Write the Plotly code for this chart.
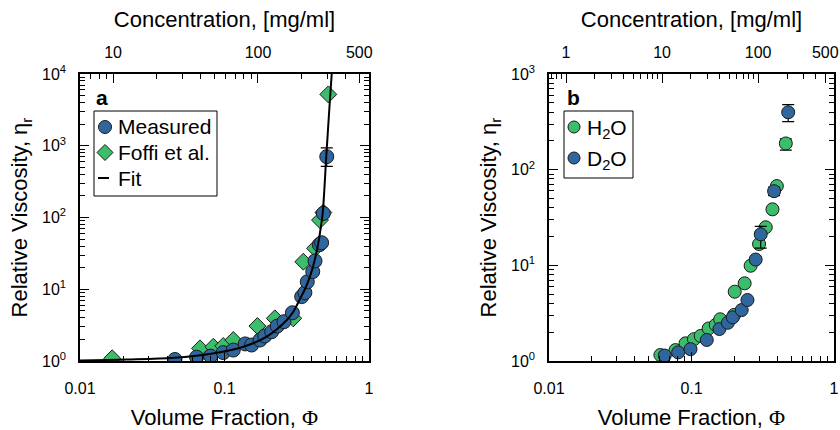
import plotly.graph_objects as go

# ---------------- data ----------------
# Panel a
phi_meas = [0.0454, 0.0641, 0.0802, 0.098, 0.115, 0.139, 0.154, 0.176, 0.19, 0.212,
            0.232, 0.258, 0.295, 0.342, 0.36, 0.374, 0.408, 0.423, 0.453, 0.47, 0.483, 0.51]
eta_meas = [1.05, 1.13, 1.17, 1.31, 1.42, 1.73, 1.67, 1.96, 2.23, 2.56,
            3.07, 3.53, 4.7, 7.9, 8.96, 12.7, 17.6, 24.8, 41.7, 44.5, 114, 705]
err_meas_plus = [0] * 21 + [230]
err_meas_minus = [0] * 21 + [190]

phi_foffi = [0.0167, 0.0677, 0.0837, 0.098, 0.115, 0.169, 0.223, 0.299, 0.351, 0.423, 0.458, 0.483, 0.523]
eta_foffi = [1.09, 1.5, 1.58, 1.62, 1.96, 3.07, 3.93, 3.93, 24.2, 37.2, 92, 117, 5200]

phi_fit = [0.01, 0.021, 0.045, 0.079, 0.135, 0.196, 0.27, 0.30, 0.33, 0.36, 0.39, 0.42,
           0.445, 0.46, 0.478, 0.506, 0.53, 0.552]
eta_fit = [1.02, 1.05, 1.11, 1.25, 1.58, 2.18, 3.72, 4.9, 7.1, 10, 15, 25,
           43, 65, 115, 705, 3000, 10000]

# Panel b
phi_h2o = [0.0605, 0.0772, 0.0908, 0.104, 0.116, 0.132, 0.148, 0.159, 0.199, 0.201,
           0.236, 0.26, 0.298, 0.332, 0.37, 0.397, 0.459]
eta_h2o = [1.155, 1.30, 1.53, 1.69, 1.83, 2.19, 2.38, 2.73, 3.03, 5.3,
           6.49, 9.9, 16.7, 25.0, 38.5, 67.4, 188]
err_h2o_plus = [0] * 16 + [22]
err_h2o_minus = [0] * 16 + [28]

phi_d2o = [0.0649, 0.0806, 0.0984, 0.128, 0.157, 0.180, 0.195, 0.225, 0.247, 0.282, 0.306, 0.38, 0.477]
eta_d2o = [1.14, 1.23, 1.33, 1.66, 2.16, 2.51, 2.86, 3.41, 4.34, 11.5, 21.1, 59.6, 398]
err_d2o_plus = [0] * 10 + [4.5, 6, 80]
err_d2o_minus = [0] * 10 + [6, 6, 80]

# ticks
phi_ticks = [0.01, 0.1, 1]
phi_ticktext = ["0.01", "0.1", "1"]
phi_minor = [0.02, 0.03, 0.04, 0.05, 0.06, 0.07, 0.08, 0.09, 0.2, 0.3, 0.4, 0.5, 0.6, 0.7, 0.8, 0.9]
conc_ticks_a = [10, 100, 500]
conc_ticks_b = [1, 10, 100, 500]
conc_minor = [0.7, 0.8, 0.9, 2, 3, 4, 5, 6, 7, 8, 9, 20, 30, 40, 50, 60, 70, 80, 90, 200, 300, 400]
eta_ticks_a = [1, 10, 100, 1000, 10000]
eta_ticks_b = [1, 10, 100, 1000]
eta_minor = [m * 10 ** d for d in range(4) for m in range(2, 10)]

legend_a = ["Measured", "Foffi et al.", "Fit"]
legend_b = ["H<sub>2</sub>O", "D<sub>2</sub>O"]

BLUE = "#2f669e"
GREEN = "#3cbd6b"
EDGE = "#1a1a1a"
FONT = "Liberation Sans, Arial, Helvetica, sans-serif"
XTITLE = 'Volume Fraction, <span style="font-family:Liberation Serif, DejaVu Serif, serif">Φ</span>'

fig = go.Figure()

# ---------------- panel a ----------------
fig.add_trace(go.Scatter(
    x=phi_foffi, y=eta_foffi, mode="markers", name=legend_a[1], showlegend=False,
    marker=dict(symbol="diamond", size=13, color=GREEN, line=dict(color=EDGE, width=1)),
    xaxis="x", yaxis="y"))
fig.add_trace(go.Scatter(
    x=phi_meas, y=eta_meas, mode="markers", name=legend_a[0], showlegend=False,
    marker=dict(symbol="circle", size=14, color=BLUE, line=dict(color=EDGE, width=1)),
    error_y=dict(type="data", array=err_meas_plus, arrayminus=err_meas_minus,
                 color="black", thickness=1.2, width=6),
    xaxis="x", yaxis="y"))
fig.add_trace(go.Scatter(
    x=phi_fit, y=eta_fit, mode="lines", name=legend_a[2], showlegend=False,
    line=dict(color="black", width=2), line_shape="spline",
    xaxis="x", yaxis="y"))
# carrier for the top (concentration) axis of panel a
fig.add_trace(go.Scatter(
    x=conc_ticks_a, y=[1] * len(conc_ticks_a), mode="markers", showlegend=False,
    marker=dict(opacity=0), hoverinfo="skip", xaxis="x3", yaxis="y"))

# ---------------- panel b ----------------
fig.add_trace(go.Scatter(
    x=phi_h2o, y=eta_h2o, mode="markers", name=legend_b[0], showlegend=False,
    marker=dict(symbol="circle", size=13, color=GREEN, line=dict(color=EDGE, width=1)),
    error_y=dict(type="data", array=err_h2o_plus, arrayminus=err_h2o_minus,
                 color="black", thickness=1.2, width=6),
    xaxis="x2", yaxis="y2"))
fig.add_trace(go.Scatter(
    x=phi_d2o, y=eta_d2o, mode="markers", name=legend_b[1], showlegend=False,
    marker=dict(symbol="circle", size=13, color=BLUE, line=dict(color=EDGE, width=1)),
    error_y=dict(type="data", array=err_d2o_plus, arrayminus=err_d2o_minus,
                 color="black", thickness=1.2, width=6),
    xaxis="x2", yaxis="y2"))
fig.add_trace(go.Scatter(
    x=conc_ticks_b, y=[1] * len(conc_ticks_b), mode="markers", showlegend=False,
    marker=dict(opacity=0), hoverinfo="skip", xaxis="x4", yaxis="y2"))

W, H = 840, 430
ax_l, ax_r = 80, 369
bx_l, bx_r = 549, 834
y_top, y_bot = 74, 361
dom_y = [(H - y_bot) / H, (H - y_top) / H]

tickfont = dict(family=FONT, size=16, color="black")
titlefont = dict(family=FONT, size=22, color="black")
minor = dict(tickvals=None, ticks="inside", ticklen=5, tickwidth=1, tickcolor="black")


def mnr(vals):
    d = dict(minor)
    d["tickvals"] = vals
    return d


def base_axis(**kw):
    d = dict(showgrid=False, zeroline=False, ticks="inside", ticklen=9, tickwidth=1,
             tickcolor="black", linecolor="black", linewidth=1.5, tickfont=tickfont,
             automargin=False, fixedrange=True)
    d.update(kw)
    return d


def px(x):
    return x / W


def py(y):
    return (H - y) / H


shapes = []
annotations = []

# ---- legend of panel a (drawn by hand) ----
shapes.append(dict(type="rect", xref="paper", yref="paper", x0=px(94), x1=px(217),
                   y0=py(196), y1=py(111), line=dict(color="black", width=1),
                   fillcolor="white", layer="above"))
rows_a = [127, 152.5, 178]
shapes.append(dict(type="circle", xref="paper", yref="paper", xsizemode="pixel", ysizemode="pixel",
                   xanchor=px(105), yanchor=py(rows_a[0]), x0=-6.5, x1=6.5, y0=-6.5, y1=6.5,
                   fillcolor=BLUE, line=dict(color=EDGE, width=1), layer="above"))
shapes.append(dict(type="path", xref="paper", yref="paper", xsizemode="pixel", ysizemode="pixel",
                   xanchor=px(105), yanchor=py(rows_a[1]),
                   path="M 0,8 L 8,0 L 0,-8 L -8,0 Z",
                   fillcolor=GREEN, line=dict(color=EDGE, width=1), layer="above"))
shapes.append(dict(type="line", xref="paper", yref="paper", x0=px(98), x1=px(109),
                   y0=py(rows_a[2]), y1=py(rows_a[2]), line=dict(color="black", width=2),
                   layer="above"))
for txt, yy in zip(legend_a, rows_a):
    annotations.append(dict(text=txt, x=px(116), y=py(yy), xref="paper", yref="paper",
                            xanchor="left", yanchor="middle", showarrow=False,
                            font=dict(family=FONT, size=21, color="black")))

# ---- legend of panel b ----
shapes.append(dict(type="rect", xref="paper", yref="paper", x0=px(564), x1=px(633),
                   y0=py(178), y1=py(111), line=dict(color="black", width=1),
                   fillcolor="white", layer="above"))
rows_b = [127, 158]
for col, yy in zip([GREEN, BLUE], rows_b):
    shapes.append(dict(type="circle", xref="paper", yref="paper", xsizemode="pixel", ysizemode="pixel",
                       xanchor=px(574), yanchor=py(yy), x0=-6, x1=6, y0=-6, y1=6,
                       fillcolor=col, line=dict(color=EDGE, width=1), layer="above"))
for txt, yy in zip(legend_b, rows_b):
    annotations.append(dict(text=txt, x=px(585), y=py(yy + 2), xref="paper", yref="paper",
                            xanchor="left", yanchor="middle", showarrow=False,
                            font=dict(family=FONT, size=21, color="black")))

annotations.append(dict(text="<b>a</b>", x=px(94), y=py(97), xref="paper", yref="paper",
                        xanchor="left", yanchor="middle", showarrow=False,
                        font=dict(family=FONT, size=21, color="black")))
annotations.append(dict(text="<b>b</b>", x=px(565), y=py(97), xref="paper", yref="paper",
                        xanchor="left", yanchor="middle", showarrow=False,
                        font=dict(family=FONT, size=21, color="black")))

fig.update_layout(
    width=W, height=H, margin=dict(l=0, r=0, t=0, b=0),
    paper_bgcolor="white", plot_bgcolor="white",
    font=dict(family=FONT, color="black"),
    showlegend=False,
    xaxis=base_axis(domain=[px(ax_l), px(ax_r)], anchor="y", type="log", range=[-2, 0],
                    tickmode="array", tickvals=phi_ticks, ticktext=phi_ticktext,
                    showline=True, mirror=True, ticklabelstandoff=12,
                    minor=mnr(phi_minor),
                    title=dict(text=XTITLE, font=titlefont, standoff=24)),
    xaxis3=base_axis(overlaying="x", side="top", anchor="y", type="log", range=[0.772, 2.766],
                     tickmode="array", tickvals=conc_ticks_a, ticktext=[str(v) for v in conc_ticks_a],
                     showline=False, ticklabelstandoff=12,
                     minor=mnr(conc_minor),
                     title=dict(text="Concentration, [mg/ml]", font=titlefont, standoff=10)),
    yaxis=base_axis(domain=dom_y, anchor="x", type="log", range=[0, 4],
                    tickmode="array", tickvals=eta_ticks_a,
                    ticktext=["10<sup>%d</sup>" % i for i in range(5)],
                    showline=True, mirror="ticks", ticklabelstandoff=9,
                    minor=mnr(eta_minor),
                    title=dict(text="Relative Viscosity, η<sub>r</sub>", font=titlefont, standoff=8)),
    xaxis2=base_axis(domain=[px(bx_l), px(bx_r)], anchor="y2", type="log", range=[-2, 0],
                     tickmode="array", tickvals=phi_ticks, ticktext=phi_ticktext,
                     showline=True, mirror=True, ticklabelstandoff=12,
                     minor=mnr(phi_minor),
                     title=dict(text=XTITLE, font=titlefont, standoff=24)),
    xaxis4=base_axis(overlaying="x2", side="top", anchor="y2", type="log", range=[-0.177, 2.79],
                     tickmode="array", tickvals=conc_ticks_b, ticktext=[str(v) for v in conc_ticks_b],
                     showline=False, ticklabelstandoff=12,
                     minor=mnr(conc_minor),
                     title=dict(text="Concentration, [mg/ml]", font=titlefont, standoff=10)),
    yaxis2=base_axis(domain=dom_y, anchor="x2", type="log", range=[0, 3],
                     tickmode="array", tickvals=eta_ticks_b,
                     ticktext=["10<sup>%d</sup>" % i for i in range(4)],
                     showline=True, mirror="ticks", ticklabelstandoff=9,
                     minor=mnr(eta_minor),
                     title=dict(text="Relative Viscosity, η<sub>r</sub>", font=titlefont, standoff=8)),
    shapes=shapes,
    annotations=annotations,
)

fig.write_html("out.html")
